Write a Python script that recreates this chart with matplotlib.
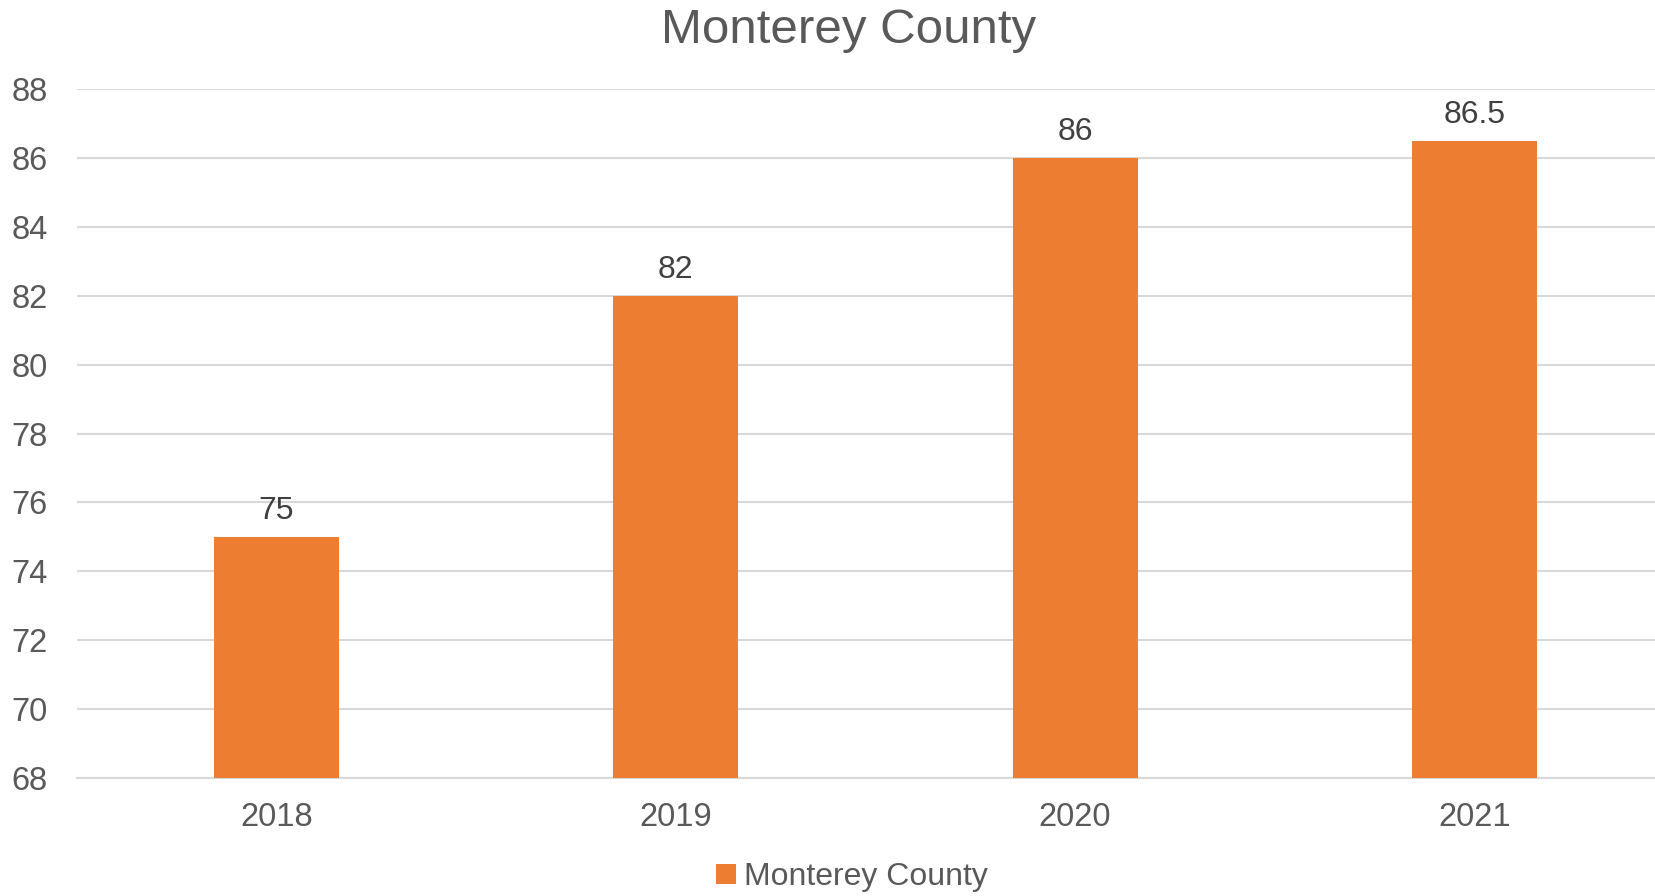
import matplotlib
matplotlib.use("Agg")
import matplotlib.pyplot as plt
from matplotlib.patches import Patch

plt.rcParams["font.family"] = ["Liberation Sans", "DejaVu Sans"]

years = ["2018", "2019", "2020", "2021"]
values = [75, 82, 86, 86.5]
value_labels = ["75", "82", "86", "86.5"]
series_name = "Monterey County"
title = "Monterey County"

BAR_COLOR = "#ED7D31"
GRID_COLOR = "#D9D9D9"
TEXT_COLOR = "#595959"
LABEL_COLOR = "#404040"

W, H = 1656, 896
fig = plt.figure(figsize=(W / 100, H / 100), dpi=100)
# axes spans a bit past the right edge, as in the reference
left, right, top, bottom = 77, 1674, 89, 778
ax = fig.add_axes([left / W, 1 - bottom / H, (right - left) / W, (bottom - top) / H])

x = range(len(years))
bars = ax.bar(x, values, width=0.313, color=BAR_COLOR, zorder=3)

ax.set_xlim(-0.5, 3.5)
ax.set_ylim(68, 88)
ax.set_yticks(range(68, 89, 2))
ax.set_xticks(list(x))
ax.set_xticklabels(years)
ax.yaxis.grid(True, color=GRID_COLOR, linewidth=1.5)
ax.set_axisbelow(True)
for side in ["top", "right", "left"]:
    ax.spines[side].set_visible(False)
ax.spines["bottom"].set_color(GRID_COLOR)
ax.spines["bottom"].set_linewidth(1.5)
ax.tick_params(axis="both", length=0, labelsize=23.5, labelcolor=TEXT_COLOR)
ax.tick_params(axis="y", pad=21)
ax.tick_params(axis="x", pad=17)

for rect, lab in zip(bars, value_labels):
    ax.annotate(lab, (rect.get_x() + rect.get_width() / 2, rect.get_height()),
                xytext=(0, 8), textcoords="offset points",
                ha="center", va="bottom", fontsize=23, color=LABEL_COLOR)

fig.text(849 / W, 1 - 43 / H, title, ha="center", va="baseline",
         fontsize=35.5, color=TEXT_COLOR)

handle = Patch(facecolor=BAR_COLOR, label=series_name)
fig.legend(handles=[handle], loc="center", bbox_to_anchor=(852 / W, 1 - 877 / H),
           frameon=False, fontsize=23, labelcolor=TEXT_COLOR,
           handlelength=0.6, handleheight=0.6, handletextpad=0.25)

fig.savefig("out.png", dpi=100)
